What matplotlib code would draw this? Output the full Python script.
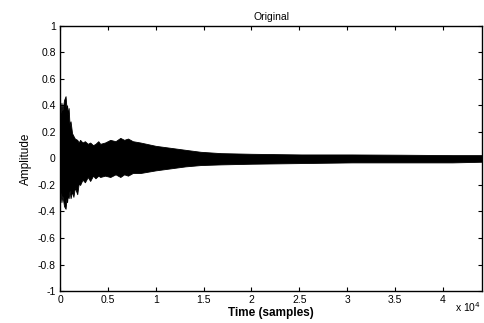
import matplotlib
matplotlib.use("Agg")
import matplotlib.pyplot as plt
from matplotlib.ticker import FuncFormatter

# envelope of the waveform (samples, upper, lower)
samples = [0, 150, 250, 420, 580, 680, 740, 820, 900, 1000, 1100, 1260, 1400, 1550,
           1800, 1950, 2100, 2350, 2600, 2900, 3150, 3450, 3700, 4000, 4200, 4700,
           5250, 5800, 6300, 6700, 7100, 7600, 8400, 10000, 11550, 13100,
           14700, 16800, 20000, 25200, 30500, 35700, 41000, 44100]
upper = [0.30, 0.42, 0.36, 0.44, 0.47, 0.38, 0.40, 0.33, 0.38, 0.25, 0.28, 0.19, 0.17, 0.15,
         0.14, 0.12, 0.14, 0.12, 0.13, 0.11, 0.12, 0.10, 0.11, 0.13, 0.11, 0.12,
         0.14, 0.13, 0.155, 0.14, 0.15, 0.13, 0.12, 0.095, 0.08, 0.065,
         0.05, 0.04, 0.035, 0.03, 0.03, 0.028, 0.025, 0.025]
lower = [-0.22, -0.33, -0.28, -0.36, -0.38, -0.30, -0.33, -0.27, -0.30, -0.24, -0.30, -0.25, -0.29, -0.22,
         -0.27, -0.19, -0.20, -0.16, -0.18, -0.14, -0.17, -0.13, -0.15, -0.13, -0.14, -0.13,
         -0.14, -0.12, -0.14, -0.12, -0.13, -0.11, -0.11, -0.09, -0.075, -0.06,
         -0.05, -0.045, -0.04, -0.035, -0.03, -0.03, -0.03, -0.025]

x_ticks = [0, 5000, 10000, 15000, 20000, 25000, 30000, 35000, 40000]
y_ticks = [-1, -0.8, -0.6, -0.4, -0.2, 0, 0.2, 0.4, 0.6, 0.8, 1]

plt.rcParams["font.family"] = ["Liberation Sans", "DejaVu Sans"]
plt.rcParams["font.size"] = 7.5

fig = plt.figure(figsize=(4.84, 3.23), dpi=100)
ax = fig.add_axes([0.124, 0.099, 0.872, 0.821])

ax.fill_between(samples, lower, upper, color="black", linewidth=0.6, edgecolor="black")

ax.set_xlim(0, 44100)
ax.set_ylim(-1, 1)
ax.set_xticks(x_ticks)
ax.set_yticks(y_ticks)
ax.xaxis.set_major_formatter(FuncFormatter(lambda v, p: f"{v / 1e4:g}"))
ax.yaxis.set_major_formatter(FuncFormatter(lambda v, p: f"{v:g}"))
ax.tick_params(direction="in", top=True, right=True, length=3, width=0.8, pad=3)
for s in ax.spines.values():
    s.set_linewidth(1.0)

ax.set_title("Original", fontsize=7.5, pad=4)
ax.set_xlabel("Time (samples)", fontsize=8.5, fontweight="bold", labelpad=1)
ax.set_ylabel("Amplitude", fontsize=8.5, labelpad=4)
fig.text(0.94, 0.035, r"x 10$^4$", fontsize=7.5)

fig.savefig("out.png", dpi=100)
